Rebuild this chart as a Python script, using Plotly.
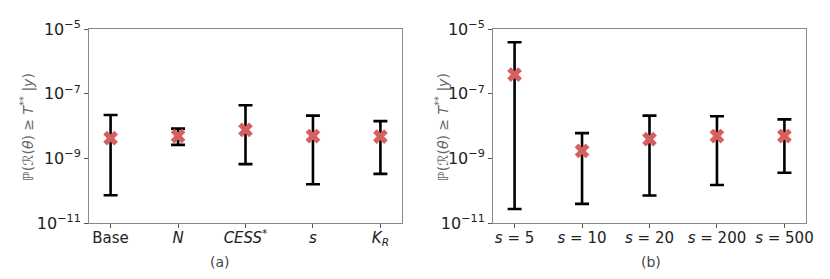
import plotly.graph_objects as go

# ---- data ----
cats_a = ["Base", "<i>N</i>", "<i>CESS</i><sup>*</sup>", "<i>s</i>", "<i>K</i><sub><i>R</i></sub>"]
center_a = [4.2e-9, 4.9e-9, 7.6e-9, 4.9e-9, 4.7e-9]
upper_a = [2.2e-8, 8.3e-9, 4.4e-8, 2.1e-8, 1.42e-8]
lower_a = [7.2e-11, 2.6e-9, 6.6e-10, 1.58e-10, 3.3e-10]

cats_b = ["<i>s</i> = 5", "<i>s</i> = 10", "<i>s</i> = 20", "<i>s</i> = 200", "<i>s</i> = 500"]
center_b = [3.9e-7, 1.7e-9, 3.9e-9, 4.9e-9, 4.9e-9]
upper_b = [3.9e-6, 6.0e-9, 2.1e-8, 2.0e-8, 1.6e-8]
lower_b = [2.7e-11, 3.9e-11, 7.1e-11, 1.5e-10, 3.6e-10]

ytick_vals = [1e-11, 1e-9, 1e-7, 1e-5]
ytick_text = ["10<sup>−11</sup>", "10<sup>−9</sup>", "10<sup>−7</sup>", "10<sup>−5</sup>"]

FONT = "DejaVu Sans"
RED = "#d65f5f"

# page body has an 8px margin; figure sized to fit inside the window
OFF = 8
W, H = 814, 263


def fx(px):
    return (px - OFF) / W


def fy(py):
    return 1 - (py - OFF) / H


fig = go.Figure()


def add_panel(cats, center, upper, lower, xa, ya):
    idx = list(range(len(cats)))
    fig.add_trace(go.Scatter(
        x=idx, y=center, mode="markers", xaxis=xa, yaxis=ya,
        marker=dict(symbol="x", size=13, color=RED, line=dict(width=0)),
        error_y=dict(type="data", symmetric=False,
                     array=[u - c for u, c in zip(upper, center)],
                     arrayminus=[c - l for c, l in zip(center, lower)],
                     color="black", thickness=2.6, width=7),
        showlegend=False, cliponaxis=False,
    ))


add_panel(cats_a, center_a, upper_a, lower_a, "x", "y")
add_panel(cats_b, center_b, upper_b, lower_b, "x2", "y2")

ydom = [fy(223), fy(29)]
common_x = dict(range=[-0.32, 4.32], showline=True, mirror=True, linecolor="#8a8a8a",
                linewidth=1, ticks="outside", ticklen=4, tickcolor="#555",
                tickfont=dict(family=FONT, size=15, color="#222"), showgrid=False,
                zeroline=False, tickmode="array", tickvals=[0, 1, 2, 3, 4],
                automargin=False, ticklabelstandoff=-3)
common_y = dict(type="log", range=[-11, -5], showline=True, mirror=True, linecolor="#8a8a8a",
                linewidth=1, ticks="outside", ticklen=4, tickcolor="#555",
                tickvals=ytick_vals, ticktext=ytick_text,
                tickfont=dict(family=FONT, size=16, color="#222"), showgrid=False,
                zeroline=False, domain=ydom, automargin=False)

fig.update_layout(
    width=W, height=H,
    margin=dict(l=0, r=0, t=0, b=0, autoexpand=False),
    paper_bgcolor="white", plot_bgcolor="white",
    xaxis=dict(domain=[fx(89), fx(402)], ticktext=cats_a, anchor="y", **common_x),
    yaxis=dict(anchor="x", **common_y),
    xaxis2=dict(domain=[fx(493), fx(806)], ticktext=cats_b, anchor="y2", **common_x),
    yaxis2=dict(anchor="x2", **common_y),
)

ylabel = "ℙ(ℛ(<i>θ</i>) ≥ <i>T</i><sup>**</sup> |<i>y</i>)"
for xpos in [27, 442]:
    fig.add_annotation(x=fx(xpos), y=fy(127), xref="paper", yref="paper",
                       xanchor="center", yanchor="middle",
                       text=ylabel, textangle=-90, showarrow=False,
                       font=dict(family=FONT, size=14, color="#666"))

for txt, xpos in [("(a)", 220), ("(b)", 651)]:
    fig.add_annotation(x=fx(xpos), y=fy(262), xref="paper", yref="paper",
                       xanchor="center", yanchor="middle",
                       text=txt, showarrow=False,
                       font=dict(family=FONT, size=14, color="#444"))

fig.write_html("out.html")
